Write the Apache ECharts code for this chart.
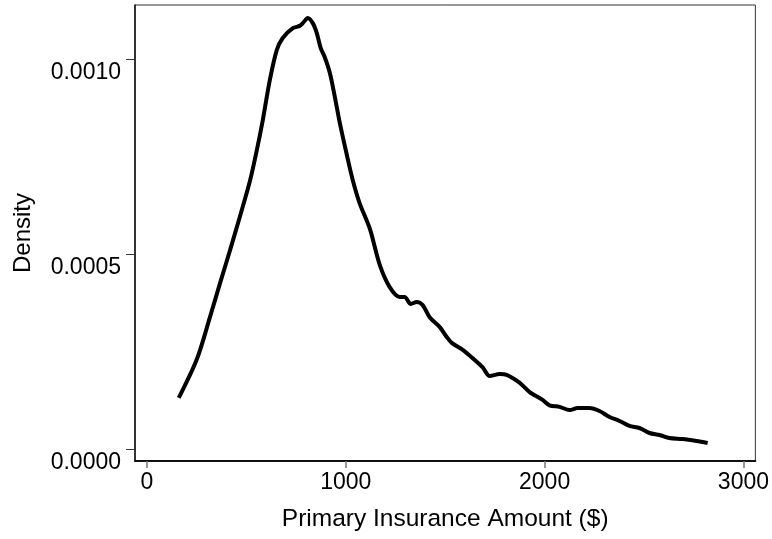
<!DOCTYPE html>
<html>
<head>
<meta charset="utf-8">
<script src="https://cdn.jsdelivr.net/npm/echarts@6/dist/echarts.min.js"></script>
<style>
  html, body { margin: 0; padding: 0; background: #fff; }
  #chart { width: 772px; height: 539px; }
</style>
</head>
<body>
<div id="chart"></div>
<script>
// Kernel density estimate of the Primary Insurance Amount
const piaValues = [
  160, 251, 317, 367, 417, 467, 518, 553, 583, 618, 653, 683, 734, 769, 784,
  809, 834, 854, 874, 894, 920, 945, 970, 1005, 1035, 1070, 1121, 1171, 1221,
  1271, 1296, 1327, 1357, 1387, 1422, 1472, 1508, 1533, 1588, 1638, 1688, 1724,
  1774, 1809, 1874, 1925, 1990, 2025, 2075, 2126, 2166, 2226, 2276, 2327, 2377,
  2427, 2477, 2528, 2578, 2628, 2693, 2764, 2820
];
const densityValues = [
  0.000131, 0.000230, 0.000338, 0.000424, 0.000508, 0.000595, 0.000687,
  0.000767, 0.000844, 0.000946, 0.001023, 0.001054, 0.001079, 0.001085,
  0.001092, 0.001105, 0.001092, 0.001067, 0.001028, 0.001005, 0.000964,
  0.000903, 0.000836, 0.000755, 0.000690, 0.000630, 0.000565, 0.000472,
  0.000415, 0.000390, 0.000390, 0.000372, 0.000377, 0.000369, 0.000338,
  0.000313, 0.000287, 0.000272, 0.000254, 0.000233, 0.000210, 0.000187,
  0.000192, 0.000190, 0.000170, 0.000146, 0.000126, 0.000112, 0.000108,
  0.000100, 0.000105, 0.000105, 0.0000974, 0.000082, 0.0000718, 0.000059,
  0.0000538, 0.000041, 0.0000359, 0.0000282, 0.0000256, 0.0000205, 0.0000154
];
const xTicks = [0, 1000, 2000, 3000];
const yTicks = [0, 0.0005, 0.001];

const FONT = 'Liberation Sans, Arial, sans-serif';
const seriesData = piaValues.map((v, i) => [v, densityValues[i]]);

const chart = echarts.init(document.getElementById('chart'), null, { renderer: 'canvas' });
chart.setOption({
  animation: false,
  backgroundColor: '#fff',
  grid: {
    left: 135, right: 16, top: 5, bottom: 78,
    show: true, borderColor: '#333', borderWidth: 1
  },
  xAxis: {
    type: 'value',
    min: -60, max: 3060,
    name: 'Primary Insurance Amount ($)',
    nameLocation: 'middle',
    nameGap: 46,
    nameTextStyle: { color: '#000', fontSize: 24.5, fontFamily: FONT },
    splitLine: { show: false },
    axisLine: { show: true, onZero: false, lineStyle: { color: '#111', width: 2 } },
    axisTick: { show: true, customValues: xTicks, length: 7, lineStyle: { color: '#777', width: 1.5 } },
    axisLabel: {
      customValues: xTicks, margin: 10, color: '#000', fontSize: 23, fontFamily: FONT,
      formatter: v => String(Math.round(v))
    }
  },
  yAxis: {
    type: 'value',
    min: -0.0000308, max: 0.0011385,
    name: 'Density',
    nameLocation: 'middle',
    nameGap: 100,
    nameRotate: 90,
    nameTextStyle: { color: '#000', fontSize: 24, fontFamily: FONT },
    splitLine: { show: false },
    axisLine: { show: true, onZero: false, lineStyle: { color: '#111', width: 1.5 } },
    axisTick: { show: true, customValues: yTicks, length: 9, lineStyle: { color: '#333', width: 1 } },
    axisLabel: {
      customValues: yTicks, margin: 14, color: '#000', fontSize: 23, fontFamily: FONT,
      verticalAlign: 'top', padding: [2, 0, 0, 0],
      formatter: v => v.toFixed(4)
    }
  },
  series: [{
    type: 'line',
    data: seriesData,
    showSymbol: false,
    smooth: 0.3,
    lineStyle: { color: '#000', width: 4, cap: 'butt', join: 'round' }
  }]
});
</script>
</body>
</html>
